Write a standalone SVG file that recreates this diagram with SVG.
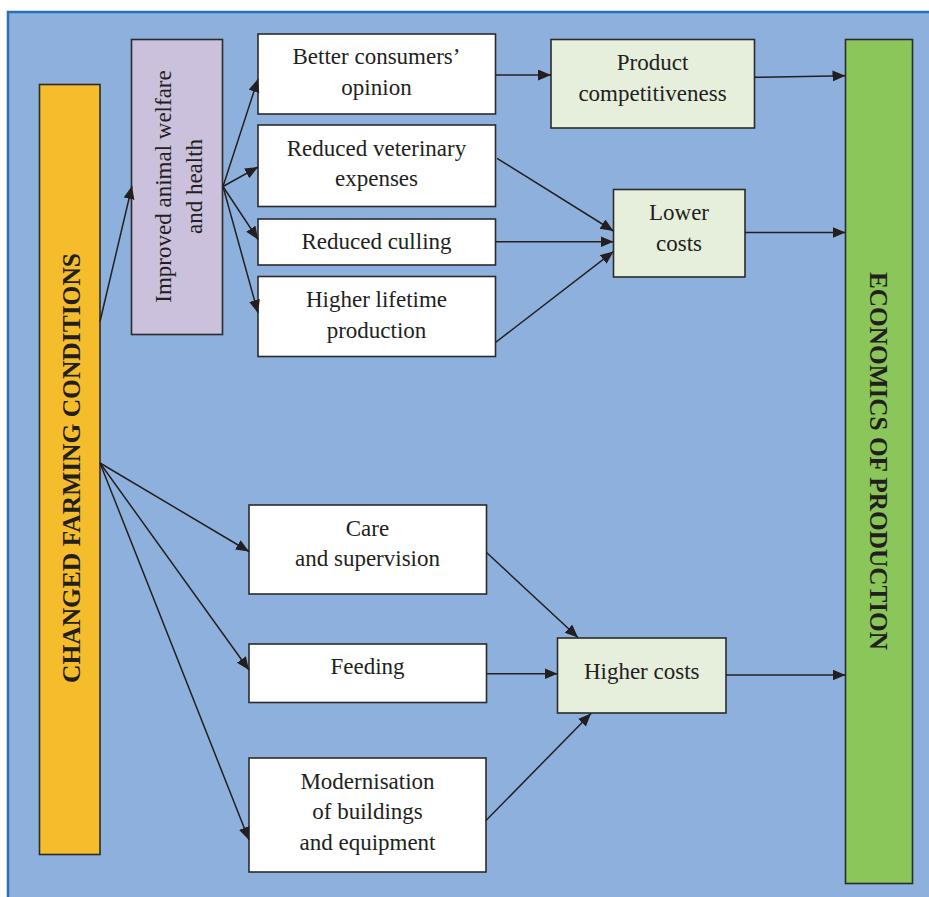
<svg xmlns="http://www.w3.org/2000/svg" width="929" height="897" viewBox="0 0 929 897">
<defs>
<marker id="arr" markerUnits="userSpaceOnUse" markerWidth="14" markerHeight="12" refX="13" refY="5.5" orient="auto">
<path d="M0,0 L13,5.5 L0,11 z" fill="#231f20"/>
</marker>
<style>
.box{stroke:#2b2b2b;stroke-width:1.6}
.w{fill:#ffffff}
.g{fill:#e6eedc}
.t{font-family:"Liberation Serif","Times New Roman",serif;font-size:23px;fill:#231f20;text-anchor:middle}
.b{font-family:"Liberation Serif","Times New Roman",serif;font-size:26px;font-weight:bold;fill:#231f20;text-anchor:middle}
.c{stroke:#231f20;stroke-width:1.5;fill:none;marker-end:url(#arr)}
</style>
</defs>
<rect x="8" y="12" width="950" height="920" fill="#8eb0dc" stroke="#2570b9" stroke-width="2.5"/>

<g id="changed-farming-conditions">
<rect class="box" x="39.5" y="84.5" width="60.5" height="770" fill="#f5bd2b"/>
<text class="b" transform="translate(80,468) rotate(-90)" textLength="430" lengthAdjust="spacingAndGlyphs">CHANGED FARMING CONDITIONS</text>
</g>

<g id="economics-of-production">
<rect class="box" x="845.5" y="39.5" width="67" height="844" fill="#8bc65a"/>
<text class="b" transform="translate(870,461) rotate(90)" textLength="378" lengthAdjust="spacingAndGlyphs">ECONOMICS OF PRODUCTION</text>
</g>

<g id="improved-animal-welfare">
<rect class="box" x="131.5" y="39.5" width="91" height="295" fill="#cbc1dd"/>
<text class="t" transform="translate(171,186.5) rotate(-90)">Improved animal welfare</text>
<text class="t" transform="translate(202,186.5) rotate(-90)">and health</text>
</g>

<g id="better-consumers-opinion">
<rect class="box w" x="258" y="34" width="237.5" height="80"/>
<text class="t" x="376.5" y="63.5">Better consumers’</text>
<text class="t" x="376.5" y="94.5">opinion</text>
</g>

<g id="reduced-veterinary-expenses">
<rect class="box w" x="258" y="125" width="237.5" height="81.5"/>
<text class="t" x="376.5" y="155.5">Reduced veterinary</text>
<text class="t" x="376.5" y="186">expenses</text>
</g>

<g id="reduced-culling">
<rect class="box w" x="258" y="219" width="237.5" height="46"/>
<text class="t" x="376.5" y="249">Reduced culling</text>
</g>

<g id="higher-lifetime-production">
<rect class="box w" x="258" y="276.5" width="237.5" height="80"/>
<text class="t" x="376.5" y="307">Higher lifetime</text>
<text class="t" x="376.5" y="337.5">production</text>
</g>

<g id="product-competitiveness">
<rect class="box g" x="551" y="39.5" width="203.5" height="88.5"/>
<text class="t" x="652.5" y="69.5">Product</text>
<text class="t" x="652.5" y="100.5">competitiveness</text>
</g>

<g id="lower-costs">
<rect class="box g" x="613.5" y="189.5" width="131.5" height="87.5"/>
<text class="t" x="679" y="220">Lower</text>
<text class="t" x="679" y="251">costs</text>
</g>

<g id="care-and-supervision">
<rect class="box w" x="249" y="505" width="237.5" height="89"/>
<text class="t" x="367.5" y="535.5">Care</text>
<text class="t" x="367.5" y="566">and supervision</text>
</g>

<g id="feeding">
<rect class="box w" x="249" y="644" width="237.5" height="58.5"/>
<text class="t" x="367.5" y="674">Feeding</text>
</g>

<g id="modernisation">
<rect class="box w" x="249" y="758" width="237" height="114"/>
<text class="t" x="367.5" y="788.5">Modernisation</text>
<text class="t" x="367.5" y="819">of buildings</text>
<text class="t" x="367.5" y="850">and equipment</text>
</g>

<g id="higher-costs">
<rect class="box g" x="557.5" y="638" width="168.5" height="75"/>
<text class="t" x="641.7" y="678.5">Higher costs</text>
</g>

<g id="connectors">
<line class="c" x1="100" y1="321.5" x2="132" y2="186"/>
<line class="c" x1="223" y1="186.5" x2="258" y2="79"/>
<line class="c" x1="223" y1="186.5" x2="258" y2="167"/>
<line class="c" x1="223" y1="186.5" x2="258" y2="239.5"/>
<line class="c" x1="223" y1="186.5" x2="258" y2="313"/>
<line class="c" x1="495.5" y1="75" x2="551" y2="75"/>
<line class="c" x1="754.5" y1="77.3" x2="845.5" y2="75.7"/>
<line class="c" x1="497" y1="158.3" x2="613.5" y2="231"/>
<line class="c" x1="495.5" y1="241.7" x2="613.5" y2="241.7"/>
<line class="c" x1="495.5" y1="342.5" x2="613.5" y2="251.5"/>
<line class="c" x1="745" y1="232.5" x2="845.5" y2="232.5"/>
<line class="c" x1="100" y1="463" x2="249" y2="551.5"/>
<line class="c" x1="100" y1="463" x2="249" y2="670"/>
<line class="c" x1="100" y1="463" x2="249" y2="840"/>
<line class="c" x1="486.5" y1="552.5" x2="578" y2="637.5"/>
<line class="c" x1="486.5" y1="673.7" x2="557.5" y2="673.7"/>
<line class="c" x1="486" y1="820.5" x2="591" y2="713.5"/>
<line class="c" x1="726" y1="675" x2="845.5" y2="675"/>
</g>
</svg>
